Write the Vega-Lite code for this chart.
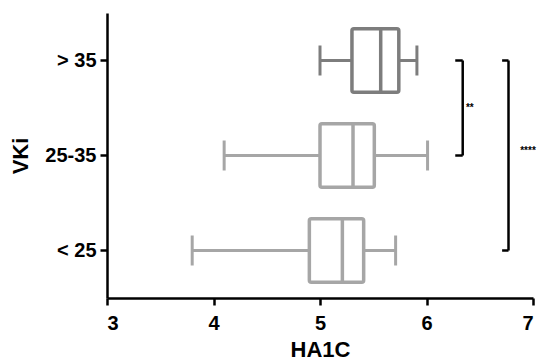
{
  "$schema": "https://vega.github.io/schema/vega-lite/v6.json",
  "width": 426,
  "height": 285,
  "autosize": "none",
  "padding": {"left": 107, "top": 13, "right": 8, "bottom": 64},
  "background": "white",
  "config": {
    "view": {"stroke": null},
    "font": "Liberation Sans",
    "tick": {"opacity": 1},
    "axis": {
      "domainColor": "black", "domainWidth": 2.5, "tickColor": "black", "tickWidth": 2.5,
      "tickSize": 7, "grid": false, "labelFont": "Liberation Sans", "labelFontWeight": "bold",
      "labelFontSize": 20, "labelColor": "black", "titleFont": "Liberation Sans",
      "titleFontWeight": "bold", "titleFontSize": 22, "titleColor": "black"
    }
  },
  "datasets": {
    "boxes": [
      {"VKi": "> 35", "lo": 5.0, "q1": 5.3, "med": 5.57, "q3": 5.74, "hi": 5.91},
      {"VKi": "25-35", "lo": 4.1, "q1": 5.0, "med": 5.31, "q3": 5.51, "hi": 6.01},
      {"VKi": "< 25", "lo": 3.8, "q1": 4.9, "med": 5.21, "q3": 5.41, "hi": 5.71}
    ],
    "brackets": [
      {"from": "> 35", "to": "25-35", "x": 6.34, "xt": 6.27},
      {"from": "> 35", "to": "< 25", "x": 6.77, "xt": 6.71}
    ],
    "ends": [
      {"cat": "> 35", "x": 6.34, "xt": 6.27},
      {"cat": "25-35", "x": 6.34, "xt": 6.27},
      {"cat": "> 35", "x": 6.77, "xt": 6.71},
      {"cat": "< 25", "x": 6.77, "xt": 6.71}
    ],
    "stars": [
      {"cat": "> 35", "x": 6.37, "label": "**"},
      {"cat": "25-35", "x": 6.88, "label": "****"}
    ]
  },
  "encoding": {
    "y": {
      "field": "VKi", "type": "nominal",
      "scale": {"domain": ["> 35", "25-35", "< 25"], "paddingInner": 0, "paddingOuter": 0},
      "axis": {"title": "VKi", "labelPadding": 4, "titlePadding": 12}
    }
  },
  "layer": [
    {
      "data": {"name": "boxes"},
      "mark": {"type": "rule", "strokeWidth": 3},
      "encoding": {
        "x": {"field": "lo", "type": "quantitative",
          "scale": {"domain": [3, 7], "nice": false, "zero": false},
          "axis": {"title": "HA1C", "values": [3, 4, 5, 6, 7], "format": "d", "labelPadding": 8, "titlePadding": 6}},
        "x2": {"field": "hi"},
        "color": {"field": "VKi", "type": "nominal", "legend": null,
          "scale": {"domain": ["> 35", "25-35", "< 25"], "range": ["#7d7d7d", "#a6a6a6", "#a6a6a6"]}}
      }
    },
    {
      "data": {"name": "boxes"},
      "mark": {"type": "tick", "orient": "vertical", "size": 30, "thickness": 3},
      "encoding": {
        "x": {"field": "lo", "type": "quantitative"},
        "color": {"field": "VKi", "type": "nominal", "legend": null}
      }
    },
    {
      "data": {"name": "boxes"},
      "mark": {"type": "tick", "orient": "vertical", "size": 30, "thickness": 3},
      "encoding": {
        "x": {"field": "hi", "type": "quantitative"},
        "color": {"field": "VKi", "type": "nominal", "legend": null}
      }
    },
    {
      "data": {"name": "boxes"},
      "mark": {"type": "bar", "fill": "white", "strokeWidth": 3.5, "cornerRadius": 2, "height": {"band": 0.67}},
      "encoding": {
        "x": {"field": "q1", "type": "quantitative"},
        "x2": {"field": "q3"},
        "stroke": {"field": "VKi", "type": "nominal", "legend": null,
          "scale": {"domain": ["> 35", "25-35", "< 25"], "range": ["#7d7d7d", "#a6a6a6", "#a6a6a6"]}}
      }
    },
    {
      "data": {"name": "boxes"},
      "mark": {"type": "tick", "orient": "vertical", "size": 64, "thickness": 3.5},
      "encoding": {
        "x": {"field": "med", "type": "quantitative"},
        "color": {"field": "VKi", "type": "nominal", "legend": null}
      }
    },
    {
      "data": {"name": "brackets"},
      "mark": {"type": "rule", "color": "black", "strokeWidth": 2.5},
      "encoding": {
        "x": {"field": "x", "type": "quantitative"},
        "y": {"field": "from", "type": "nominal"},
        "y2": {"field": "to"}
      }
    },
    {
      "data": {"name": "ends"},
      "mark": {"type": "rule", "color": "black", "strokeWidth": 2.5},
      "encoding": {
        "x": {"field": "xt", "type": "quantitative"},
        "x2": {"field": "x"},
        "y": {"field": "cat", "type": "nominal"}
      }
    },
    {
      "data": {"name": "stars"},
      "transform": [{"filter": "datum.label == '**'"}],
      "mark": {"type": "text", "align": "left", "baseline": "middle", "fontSize": 10, "fontWeight": "bold", "color": "black"},
      "encoding": {
        "x": {"field": "x", "type": "quantitative"},
        "y": {"field": "cat", "type": "nominal", "bandPosition": 1},
        "text": {"field": "label"}
      }
    },
    {
      "data": {"name": "stars"},
      "transform": [{"filter": "datum.label == '****'"}],
      "mark": {"type": "text", "align": "left", "baseline": "middle", "fontSize": 10, "fontWeight": "bold", "color": "black"},
      "encoding": {
        "x": {"field": "x", "type": "quantitative"},
        "y": {"field": "cat", "type": "nominal", "bandPosition": 0.45},
        "text": {"field": "label"}
      }
    }
  ]
}
